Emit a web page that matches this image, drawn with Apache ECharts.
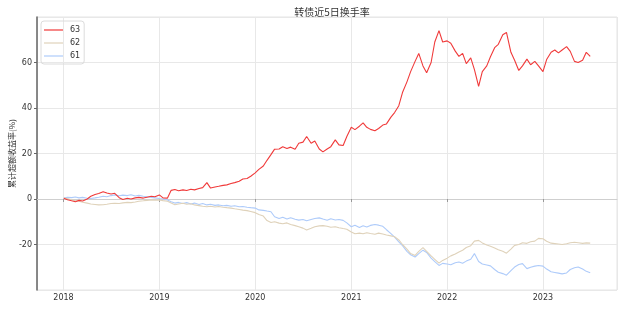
<!DOCTYPE html>
<html>
<head>
<meta charset="utf-8">
<script src="https://cdn.jsdelivr.net/npm/echarts@6/dist/echarts.min.js"></script>
<style>html,body{margin:0;padding:0;background:#fff}#c{width:618px;height:309px}</style>
</head>
<body>
<div id="c"></div>
<script>
const dates = [
'2018-01-02','2018-01-16','2018-02-01','2018-02-15','2018-03-01','2018-03-15','2018-04-01','2018-04-15','2018-05-01','2018-05-15','2018-06-01','2018-06-15','2018-07-01','2018-07-15','2018-08-01','2018-08-15','2018-09-01','2018-09-15','2018-10-01','2018-10-15','2018-11-01','2018-11-15','2018-12-01','2018-12-15',
'2019-01-01','2019-01-15','2019-02-01','2019-02-15','2019-03-01','2019-03-15','2019-04-01','2019-04-15','2019-05-01','2019-05-15','2019-06-01','2019-06-15','2019-07-01','2019-07-15','2019-08-01','2019-08-15','2019-09-01','2019-09-15','2019-10-01','2019-10-15','2019-11-01','2019-11-15','2019-12-01','2019-12-15',
'2020-01-01','2020-01-15','2020-02-01','2020-02-15','2020-03-01','2020-03-15','2020-04-01','2020-04-15','2020-05-01','2020-05-15','2020-06-01','2020-06-15','2020-07-01','2020-07-15','2020-08-01','2020-08-15','2020-09-01','2020-09-15','2020-10-01','2020-10-15','2020-11-01','2020-11-15','2020-12-01','2020-12-15',
'2021-01-01','2021-01-15','2021-02-01','2021-02-15','2021-03-01','2021-03-15','2021-04-01','2021-04-15','2021-05-01','2021-05-15','2021-06-01','2021-06-15','2021-07-01','2021-07-15','2021-08-01','2021-08-15','2021-09-01','2021-09-15','2021-10-01','2021-10-15','2021-11-01','2021-11-15','2021-12-01','2021-12-15',
'2022-01-01','2022-01-15','2022-02-01','2022-02-15','2022-03-01','2022-03-15','2022-04-01','2022-04-15','2022-05-01','2022-05-15','2022-06-01','2022-06-15','2022-07-01','2022-07-15','2022-08-01','2022-08-15','2022-09-01','2022-09-15','2022-10-01','2022-10-15','2022-11-01','2022-11-15','2022-12-01','2022-12-15',
'2023-01-01','2023-01-15','2023-02-01','2023-02-15','2023-03-01','2023-03-15','2023-04-01','2023-04-15','2023-05-01','2023-05-15','2023-06-01','2023-06-15','2023-06-30'
];
const s63 = [
0.3,-0.3,-0.8,-1.2,-0.6,-0.9,0.0,1.2,2.0,2.4,3.2,2.6,2.2,2.5,0.6,-0.2,0.3,0.0,0.5,0.7,0.4,0.8,1.2,1.0,
1.8,0.5,0.4,3.8,4.2,3.6,4.0,3.7,4.3,4.0,4.6,5.0,7.2,4.8,5.3,5.6,6.0,6.2,6.8,7.2,7.8,8.8,9.0,10.0,
11.5,13.0,14.5,17.0,19.5,21.9,22.0,23.0,22.2,22.8,21.9,24.5,25.0,27.5,24.5,25.5,22.0,20.7,22.0,23.0,26.0,23.8,23.5,27.5,
31.5,30.5,32.0,33.5,31.5,30.6,30.0,31.0,32.5,33.0,36.0,38.0,41.0,46.8,51.5,56.0,60.5,64.0,58.5,55.5,60.0,69.0,74.0,69.0,
69.5,68.5,65.0,62.7,64.0,59.5,62.0,56.9,49.5,56.0,58.5,62.5,66.5,68.0,72.2,73.2,64.5,61.0,56.5,58.5,61.5,59.0,60.5,58.5,
56.0,61.3,64.5,65.5,64.2,65.5,67.0,64.9,60.5,60.0,61.0,64.5,62.7
];
const s62 = [
0.4,0.2,-0.3,-0.7,-1.0,-1.4,-1.8,-2.2,-2.4,-2.6,-2.5,-2.3,-2.0,-1.9,-2.0,-1.7,-1.5,-1.6,-1.3,-1.0,-0.8,-0.6,-0.4,-0.5,
-0.4,-0.7,-1.0,-1.8,-2.5,-2.2,-1.9,-2.3,-2.1,-2.6,-2.9,-3.2,-3.4,-3.2,-3.5,-3.3,-3.6,-3.8,-4.0,-4.3,-4.6,-4.9,-5.1,-5.5,
-6.0,-6.8,-7.5,-9.5,-10.3,-10.0,-10.6,-10.9,-10.5,-11.2,-11.7,-12.2,-12.8,-13.6,-12.9,-12.2,-11.8,-11.7,-12.0,-12.4,-12.2,-12.6,-13.0,-13.3,
-14.5,-15.3,-15.0,-15.3,-14.8,-15.2,-15.5,-15.0,-15.4,-15.8,-16.2,-16.6,-18.0,-20.0,-22.0,-24.0,-24.8,-23.0,-21.4,-23.0,-25.0,-26.5,-28.2,-27.0,
-26.0,-25.0,-24.2,-23.3,-22.5,-21.3,-20.5,-18.5,-18.2,-19.3,-20.2,-20.8,-21.5,-22.3,-23.0,-23.8,-22.0,-20.4,-20.0,-19.2,-19.5,-18.8,-18.5,-17.3,
-17.5,-18.6,-19.4,-19.6,-19.8,-20.0,-19.7,-19.2,-19.0,-19.2,-19.5,-19.3,-19.4
];
const s61 = [
0.4,0.8,0.6,0.9,0.5,0.7,0.3,0.2,0.5,0.8,1.2,1.0,1.5,1.8,1.4,1.7,1.5,1.9,1.3,1.6,1.2,1.0,0.7,0.5,
0.2,0.0,-0.4,-1.2,-1.8,-1.5,-2.0,-1.6,-2.2,-1.8,-2.4,-2.0,-2.6,-2.3,-2.8,-2.6,-3.0,-2.8,-3.2,-3.0,-3.4,-3.3,-3.6,-3.8,
-4.0,-4.8,-5.0,-5.3,-5.6,-7.8,-8.6,-8.0,-8.8,-8.2,-8.9,-9.3,-9.0,-9.6,-9.0,-8.6,-8.3,-8.8,-9.3,-8.7,-9.2,-9.0,-9.4,-10.5,
-12.2,-11.5,-12.5,-11.8,-12.3,-11.6,-11.2,-11.5,-12.0,-13.5,-15.2,-16.8,-18.8,-20.5,-23.0,-24.5,-25.5,-24.0,-22.5,-23.5,-26.0,-27.5,-29.2,-28.3,
-28.6,-28.9,-28.0,-27.7,-28.2,-27.3,-26.5,-24.0,-27.5,-28.6,-29.0,-29.4,-31.0,-32.2,-32.8,-33.5,-31.5,-29.9,-28.8,-28.4,-30.6,-30.0,-29.5,-29.2,
-29.5,-30.8,-32.0,-32.3,-32.6,-32.9,-32.5,-31.0,-30.2,-29.9,-30.8,-31.8,-32.4
];
const seriesNames = ['63','62','61'];
const seriesColors = ['#f03a3a','#dfd2ba','#aecbfa'];

const zip = arr => dates.map((d, i) => [d, arr[i]]);
const allData = [s63, s62, s61];

const chart = echarts.init(document.getElementById('c'), null, {renderer: 'canvas'});
chart.setOption({
  animation: false,
  backgroundColor: '#fff',
  title: {
    text: '转债近5日换手率',
    left: 327, top: 2, textAlign: 'center',
    textStyle: {fontSize: 10, fontWeight: 'normal', color: '#333', fontFamily: 'Noto Sans CJK SC'}
  },
  legend: {
    orient: 'vertical', left: 41, top: 21,
    data: seriesNames,
    icon: 'rect', itemWidth: 19, itemHeight: 1.2, itemGap: 5,
    padding: [5, 4, 4, 3],
    borderColor: '#dcdcdc', borderWidth: 1, borderRadius: 3,
    textStyle: {fontSize: 8, color: '#333', fontFamily: 'DejaVu Sans', padding: [0, 0, 0, 2]}
  },
  grid: {left: 37, right: 1, top: 17, bottom: 19, show: true, borderColor: '#e4e4e4', borderWidth: 1, outerBoundsMode: 'none', containLabel: false},
  xAxis: {
    type: 'time',
    min: '2017-09-22', max: '2023-10-10',
    minInterval: 365 * 24 * 3600 * 1000,
    splitNumber: 6,
    axisLine: {show: true, lineStyle: {color: '#cfcfcf', width: 1}},
    axisTick: {show: true, length: 3, lineStyle: {color: '#999'}},
    axisLabel: {formatter: '{yyyy}', fontSize: 8, color: '#333', margin: 4, fontFamily: 'DejaVu Sans', fontWeight: 'normal'},
    splitLine: {show: true, lineStyle: {color: '#e8e8e8', width: 1}},
    minorTick: {show: false}
  },
  yAxis: {
    type: 'value', min: -40, max: 80, interval: 20,
    name: '累计超额收益率(%)', nameLocation: 'middle', nameGap: 21, nameMoveOverlap: false,
    nameTextStyle: {fontSize: 8, color: '#333', fontFamily: 'Noto Sans CJK SC'},
    axisLine: {show: true, lineStyle: {color: '#666', width: 1.5}},
    axisTick: {show: true, length: 3, lineStyle: {color: '#666'}},
    axisLabel: {fontSize: 8, color: '#333', margin: 5, fontFamily: 'DejaVu Sans', showMinLabel: false, showMaxLabel: false},
    splitLine: {show: true, lineStyle: {color: '#e8e8e8', width: 1}}
  },
  series: seriesNames.map((n, i) => ({
    name: n, type: 'line', data: zip(allData[i]),
    showSymbol: false, symbol: 'none',
    lineStyle: {color: seriesColors[i], width: 1.1},
    itemStyle: {color: seriesColors[i]},
    z: 3 - i
  }))
});
</script>
</body>
</html>
